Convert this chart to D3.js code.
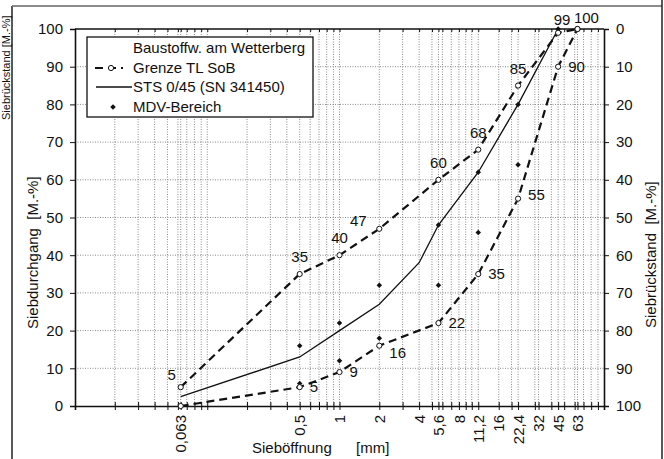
<!DOCTYPE html>
<html>
<head>
<meta charset="utf-8">
<script src="https://cdn.jsdelivr.net/npm/d3@7"></script>
<style>
  body { margin: 0; background: #fff; }
  svg text { font-family: "Liberation Sans", Arial, sans-serif; font-size: 15px; fill: #111; }
</style>
</head>
<body>
<svg id="chart" width="664" height="459"></svg>
<script>
// Sieve sizes [mm] shown on the x axis and their printed labels
const sieves = [0.063, 0.5, 1, 2, 4, 5.6, 8, 11.2, 16, 22.4, 32, 45, 63];
const sieveLabels = ["0,063", "0,5", "1", "2", "4", "5,6", "8", "11,2", "16", "22,4", "32", "45", "63"];
const passTicks = [0, 10, 20, 30, 40, 50, 60, 70, 80, 90, 100];

// Grenze TL SoB: upper and lower grading limits (passing, M.-%)
const limitSieves = [0.063, 0.5, 1, 2, 5.6, 11.2, 22.4, 45, 63];
const upperLimit = [5, 35, 40, 47, 60, 68, 85, 99, 100];
const lowerLimit = [0, 5, 9, 16, 22, 35, 55, 90, 100];

// STS 0/45 (SN 341450) grading curve
const stsSieves = [0.063, 0.5, 1, 2, 4, 5.6, 11.2, 22.4, 45];
const stsPass = [2.5, 13, 20, 27, 38, 48, 62, 80, 100];

// MDV-Bereich: upper and lower bounds
const mdvSieves = [0.5, 1, 2, 5.6, 11.2, 22.4, 45];
const mdvUpper = [16, 22, 32, 48, 62, 80, 100];
const mdvLower = [6, 12, 18, 32, 46, 64, 90];

const legendLabels = ["Baustoffw. am Wetterberg", "Grenze TL SoB", "STS 0/45 (SN 341450)", "MDV-Bereich"];

const svg = d3.select("#chart");
const L = 75, R = 604, T = 29, B = 406;

const x = d3.scaleLog().domain([0.01, 100]).range([L, R]);
const y = d3.scaleLinear().domain([0, 100]).range([B, T]);
const yRest = d3.scaleLinear().domain([0, 100]).range([T, B]);

// page frame
svg.append("line").attr("x1", 12).attr("x2", 12).attr("y1", 6).attr("y2", 459)
  .attr("stroke", "#222").attr("stroke-width", 1.5);
svg.append("line").attr("x1", 12).attr("x2", 662).attr("y1", 6).attr("y2", 6)
  .attr("stroke", "#666").attr("stroke-width", 1.5);
svg.append("line").attr("x1", 662).attr("x2", 662).attr("y1", 0).attr("y2", 459)
  .attr("stroke", "#222").attr("stroke-width", 1.5);
svg.append("text").attr("transform", "translate(10,120) rotate(-90)")
  .style("font-size", "11px").text("Siebrückstand [M.-%]");

// log minor positions 0.02 ... 90
const minor = [];
for (let e = -2; e < 2; e++) for (let m = 1; m < 10; m++) {
  const v = m * Math.pow(10, e);
  if (v > 0.01) minor.push(v);
}
const gridX = Array.from(new Set(minor.concat(sieves))).sort((a, b) => a - b);

// grid
const grid = svg.append("g").attr("stroke", "#8a8a8a").attr("stroke-width", 1).attr("stroke-dasharray", "1,1.5");
grid.selectAll(".gx").data(gridX).join("line")
  .attr("x1", d => x(d)).attr("x2", d => x(d)).attr("y1", T).attr("y2", B);
grid.selectAll(".gy").data(passTicks.slice(1, -1)).join("line")
  .attr("x1", L).attr("x2", R).attr("y1", d => y(d)).attr("y2", d => y(d));

// frame of the plot
svg.append("line").attr("x1", L).attr("x2", R).attr("y1", T).attr("y2", T)
  .attr("stroke", "#111").attr("stroke-width", 1.3);

// top edge ticks
svg.append("g").attr("transform", `translate(0,${T})`)
  .call(d3.axisBottom(x).tickValues(gridX).tickSize(3).tickFormat(""))
  .call(g => g.select(".domain").remove())
  .selectAll("line").attr("stroke", "#111");

// bottom axis: ticks crossing the line
svg.append("g").attr("transform", `translate(0,${B})`)
  .call(d3.axisBottom(x).tickValues(gridX).tickSize(4).tickFormat(""))
  .call(g => g.select(".domain").attr("stroke", "#111").attr("stroke-width", 1.6))
  .selectAll("line").attr("stroke", "#111");
svg.append("g").attr("transform", `translate(0,${B})`)
  .call(d3.axisTop(x).tickValues(gridX).tickSize(4).tickFormat(""))
  .call(g => g.select(".domain").remove())
  .selectAll("line").attr("stroke", "#111");

// bottom labels, rotated
const xLab = svg.append("g").attr("transform", `translate(0,${B})`)
  .call(d3.axisBottom(x).tickValues(sieves).tickSize(0)
    .tickFormat((d, i) => sieveLabels[i]));
xLab.select(".domain").remove();
xLab.selectAll("text")
  .attr("font-size", null).attr("font-family", null)
  .attr("transform", "rotate(-90)")
  .attr("x", -9).attr("y", 0).attr("dy", "0.35em")
  .attr("text-anchor", "end");

// left axis
const yAx = svg.append("g").attr("transform", `translate(${L},0)`)
  .call(d3.axisLeft(y).tickValues(passTicks).tickSize(5).tickPadding(7));
yAx.select(".domain").attr("stroke", "#111").attr("stroke-width", 1.6);
yAx.selectAll("line").attr("stroke", "#111");
yAx.selectAll("text").attr("font-size", null).attr("font-family", null);

// right axis (retained)
const yrAx = svg.append("g").attr("transform", `translate(${R},0)`)
  .call(d3.axisRight(yRest).tickValues(passTicks).tickSize(5).tickPadding(7));
yrAx.select(".domain").attr("stroke", "#111").attr("stroke-width", 1.6);
yrAx.selectAll("line").attr("stroke", "#111");
yrAx.selectAll("text").attr("font-size", null).attr("font-family", null);

// axis titles
svg.append("text").attr("transform", "translate(38,329) rotate(-90)")
  .attr("xml:space", "preserve").text("Siebdurchgang  [M.-%]");
svg.append("text").attr("transform", "translate(656,328) rotate(-90)")
  .attr("xml:space", "preserve").text("Siebrückstand  [M.-%]");
svg.append("text").attr("x", 252).attr("y", 453).text("Sieböffnung");
svg.append("text").attr("x", 356).attr("y", 453).text("[mm]");

// curves
const line = d3.line().x(d => x(d[0])).y(d => y(d[1]));
const upper = limitSieves.map((s, i) => [s, upperLimit[i]]);
const lower = limitSieves.map((s, i) => [s, lowerLimit[i]]);
const sts = stsSieves.map((s, i) => [s, stsPass[i]]);

svg.append("path").attr("d", line(sts)).attr("fill", "none")
  .attr("stroke", "#111").attr("stroke-width", 1.3);
[upper, lower].forEach(c => {
  svg.append("path").attr("d", line(c)).attr("fill", "none")
    .attr("stroke", "#111").attr("stroke-width", 2.2).attr("stroke-dasharray", "8,5");
});

// MDV markers (small filled diamonds)
const diamond = d3.symbol().type(d3.symbolSquare).size(15);
const mdv = mdvSieves.flatMap((s, i) => [[s, mdvUpper[i]], [s, mdvLower[i]]]);
svg.selectAll(".mdv").data(mdv).join("path")
  .attr("d", diamond).attr("fill", "#111")
  .attr("transform", d => `translate(${x(d[0])},${y(d[1])}) rotate(45)`);

// limit markers
svg.selectAll(".lim").data(upper.concat(lower)).join("circle")
  .attr("cx", d => x(d[0])).attr("cy", d => y(d[1])).attr("r", 2.6)
  .attr("fill", "#fff").attr("stroke", "#111").attr("stroke-width", 1);

// value labels: upper limit above the point, lower limit to the right
const upperShift = { 0.063: [-9, -12], 2: [-21, -8], 45: [4, -13], 63: [9, -11] };
svg.selectAll(".ul").data(upper).join("text")
  .attr("text-anchor", "middle")
  .attr("x", d => x(d[0]) + (upperShift[d[0]] || [0, -17])[0])
  .attr("y", d => y(d[1]) + (upperShift[d[0]] || [0, -17])[1] + 5)
  .text(d => d[1]);
const lowerShift = { 2: 7, 22.4: -4 };
svg.selectAll(".ll").data(lower.filter(d => d[1] > 0 && d[1] < 100)).join("text")
  .attr("x", d => x(d[0]) + 10)
  .attr("y", d => y(d[1]) + (lowerShift[d[0]] || 0) + 5)
  .text(d => d[1]);

// legend
const lg = svg.append("g");
lg.append("rect").attr("x", 87).attr("y", 37).attr("width", 226).attr("height", 80)
  .attr("fill", "#fff").attr("stroke", "#111").attr("stroke-width", 1.3);
const rows = [48, 68, 87, 107];
legendLabels.forEach((t, i) => {
  lg.append("text").attr("x", 133).attr("y", rows[i] + 5).text(t);
});
lg.append("line").attr("x1", 95).attr("x2", 123).attr("y1", rows[1]).attr("y2", rows[1])
  .attr("stroke", "#111").attr("stroke-width", 2.2).attr("stroke-dasharray", "8,5");
lg.append("circle").attr("cx", 111).attr("cy", rows[1]).attr("r", 2.6)
  .attr("fill", "#fff").attr("stroke", "#111");
lg.append("line").attr("x1", 96).attr("x2", 132).attr("y1", rows[2]).attr("y2", rows[2])
  .attr("stroke", "#111").attr("stroke-width", 1.3);
lg.append("path").attr("d", diamond).attr("fill", "#111")
  .attr("transform", `translate(113,${rows[3]}) rotate(45)`);
</script>
</body>
</html>
